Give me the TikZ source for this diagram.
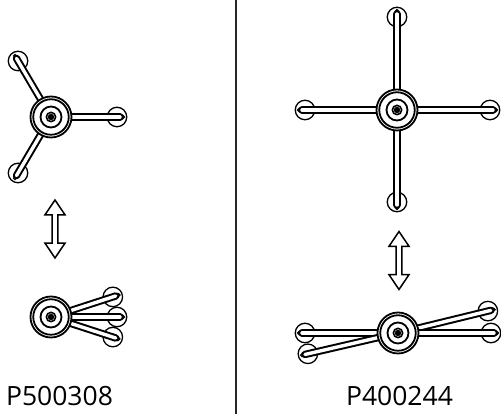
\documentclass[tikz,border=0pt]{standalone}
\usepackage{fontspec}
\setmainfont{Open Sans}
\usetikzlibrary{shapes.arrows}
\tikzset{
    ring/.style={circle,draw,line width=1.8pt,inner sep=0pt,minimum size=#1},
    hubring/.style={ring=#1,fill=white},
    endring/.style={circle,draw,line width=1.3pt,inner sep=0pt,minimum size=19.5pt},
    knob/.style={circle,draw,line width=1.1pt,inner sep=0pt,minimum size=3pt},
    arm/.style={double=white,double distance=3.4pt,line width=2pt,line cap=round},
    swap/.style={double arrow,draw,line width=1.5pt,inner sep=0pt,rotate=90,minimum width=20pt,
        minimum height=58pt,double arrow head extend=1.8pt,double arrow tip angle=68},
    label/.style={anchor=base,font=\fontsize{26.5pt}{29pt}\selectfont,text=black}
}
% hub name, position
\newcommand{\hubdisc}[2]{
    \node[hubring=41pt] (#1) at (#2) {};
    \node[hubring=35.5pt] (#1b) at (#2) {};
    \node[ring=21pt] (#1c) at (#2) {};
    \node[circle,fill=black,inner sep=0pt,minimum size=11pt] (#1d) at (#2) {};
    \node[circle,draw=white,line width=.3pt,inner sep=0pt,minimum size=7pt] (#1e) at (#2) {};
}
% hub name, arm name, hub position, angle, length
\newcommand{\hubarm}[5]{
    \coordinate (#2t) at ([shift={(#4:#5+3)}]#3);
    \node[endring] (#2) at ([shift={(#4:#5)}]#3) {};
    \node[knob] (#2k) at ([shift={(#4:#5+6)}]#3) {};
    \draw[arm] (#1) -- (#2t);
}
\begin{document}
\begin{tikzpicture}[x=1pt,y=1pt]
    \useasboundingbox (0,0) rectangle (501,414);
    \coordinate (divtop) at (235.5,414);
    \coordinate (divbot) at (235.5,0);
    \draw[line width=2pt,black!85] (divtop) -- (divbot);
    % left, open
    \coordinate (hubA) at (51,297);
    \hubarm{hubA}{armAa}{51,297}{0}{66}
    \hubarm{hubA}{armAb}{51,297}{120.5}{65}
    \hubarm{hubA}{armAc}{51,297}{-120.5}{65}
    \hubdisc{hubAn}{51,297}
    \node[swap] (swapA) at (55,185) {};
    % left, folded
    \coordinate (hubB) at (51,97);
    \hubarm{hubB}{armBa}{51,97}{18}{65}
    \hubarm{hubB}{armBb}{51,97}{0}{66}
    \hubarm{hubB}{armBc}{51,97}{-18}{65}
    \hubdisc{hubBn}{51,97}
    \node[label] (nameA) at (59.5,8) {P500308};
    % right, open
    \coordinate (hubC) at (397,304);
    \hubarm{hubC}{armCa}{397,304}{0}{93}
    \hubarm{hubC}{armCb}{397,304}{90}{93}
    \hubarm{hubC}{armCc}{397,304}{180}{92}
    \hubarm{hubC}{armCd}{397,304}{-90}{92}
    \hubdisc{hubCn}{397,304}
    \node[swap] (swapB) at (399,153.5) {};
    % right, folded
    \coordinate (hubD) at (398,81);
    \hubarm{hubD}{armDa}{398,81}{13.7}{92.5}
    \hubarm{hubD}{armDb}{398,81}{0}{93}
    \hubarm{hubD}{armDc}{398,81}{180}{93}
    \hubarm{hubD}{armDd}{398,81}{193}{92.5}
    \hubdisc{hubDn}{398,81}
    \node[label] (nameB) at (399.5,8) {P400244};
\end{tikzpicture}
\end{document}
